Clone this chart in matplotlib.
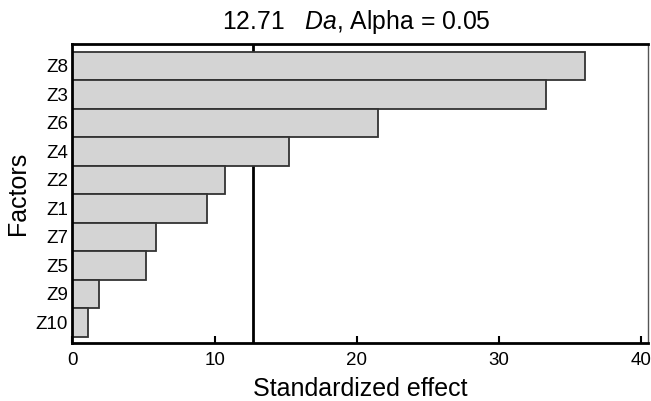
import matplotlib
matplotlib.use("Agg")
import matplotlib.pyplot as plt
import numpy as np

factors = ["Z8", "Z3", "Z6", "Z4", "Z2", "Z1", "Z7", "Z5", "Z9", "Z10"]
effects = [36.0, 33.3, 21.5, 15.25, 10.7, 9.5, 5.9, 5.2, 1.9, 1.1]
critical = 12.71
xticks = [0, 10, 20, 30, 40]

plt.rcParams['font.family'] = ['Liberation Sans', 'DejaVu Sans']
plt.rcParams['mathtext.fontset'] = 'custom'
plt.rcParams['mathtext.rm'] = 'Liberation Sans'
plt.rcParams['mathtext.it'] = 'Liberation Sans:italic'

fig = plt.figure(figsize=(6.51, 4.01), dpi=100)
ax = fig.add_axes([72.3/651, 1-343.3/401, (648.3-72.3)/651, (343.3-44)/401])

n = len(factors)
ypos = np.arange(n)[::-1]
ax.axvline(critical, color="black", linewidth=2, zorder=1)
ax.barh(ypos, effects, height=1.0, color="#d4d4d4", edgecolor="#333333",
        linewidth=1.3, zorder=2)

ax.set_xlim(0, 40.48)
ax.set_ylim(-0.73, n - 0.5 + 0.27)
ax.set_xticks(xticks)
ax.set_yticks(ypos)
ax.set_yticklabels(factors)
ax.tick_params(axis='x', direction='in', length=5, width=1.5, labelsize=13.5, pad=6)
ax.tick_params(axis='y', length=0, labelsize=13.5, pad=3)

for s in ['left', 'bottom', 'top']:
    ax.spines[s].set_linewidth(2)
    ax.spines[s].set_color('black')
    ax.spines[s].set_zorder(3)
ax.spines['right'].set_linewidth(1)
ax.spines['right'].set_color('#555555')

ax.set_xlabel("Standardized effect", fontsize=18, labelpad=6)
ax.set_ylabel("Factors", fontsize=18, labelpad=4)

fig.text(356/651, 1-22/401, "12.71   $\\mathit{Da}$, Alpha = 0.05", fontsize=17.8,
         ha='center', va='center')

fig.savefig("out.png", dpi=100)
